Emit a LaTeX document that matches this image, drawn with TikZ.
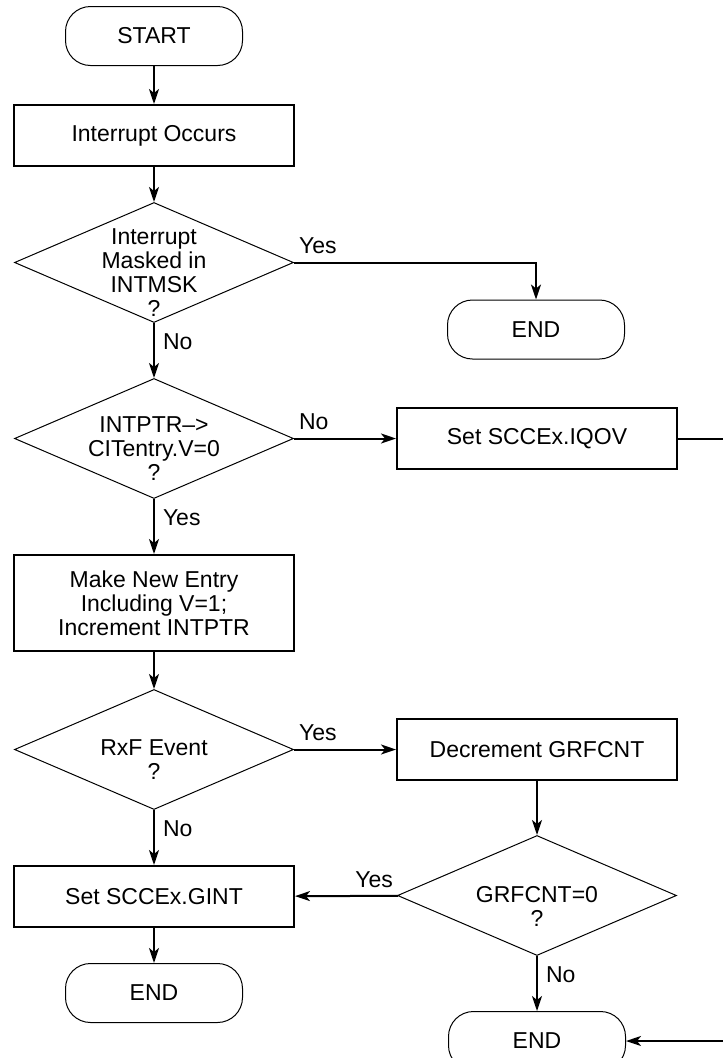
\documentclass[tikz,border=0pt]{standalone}
\usepackage{fontspec}
\setmainfont{Liberation Sans}
\usepackage{xcolor}
\usetikzlibrary{positioning, arrows.meta, shapes.geometric}
\definecolor{ink}{HTML}{000000}

\begin{document}
\begin{tikzpicture}[
    font=\fontsize{23}{24}\selectfont,
    terminal/.style={rectangle, draw=ink, text=ink, line width=1pt,
                     rounded corners=25pt, minimum width=177pt, minimum height=59pt},
    process/.style={rectangle, draw=ink, text=ink, line width=2pt,
                    minimum width=280pt, minimum height=61pt, align=center},
    decision/.style={diamond, draw=ink, line width=1pt, aspect=2.325,
                     minimum width=279pt, minimum height=120pt, inner sep=0pt},
    qtext/.style={align=center, yshift=-10.5pt, text=ink},
    arrow/.style={-{Stealth[length=15pt, width=10pt, inset=4pt]}, line width=2pt, ink},
    sidelbl/.style={inner xsep=4pt, inner ysep=7.5pt, text=ink},
    belowlbl/.style={below right, inner xsep=8pt, inner ysep=10pt, text=ink}
  ]
    \path[use as bounding box, clip] (0,0) rectangle (723pt,-1058pt);

    % main column
    \node[terminal] (start) at (154pt,-36pt) {START};
    \node[process, below=38pt of start] (occurs) {Interrupt Occurs};
    \node[decision, below=35pt of occurs,
          label={[qtext]center:{Interrupt\\Masked in\\INTMSK\\?}}] (masked) {};
    \node[decision, below=55pt of masked,
          label={[qtext]center:{INTPTR–>\\CITentry.V=0\\?}}] (valid) {};
    \node[process, below=55pt of valid, minimum height=96pt] (newentry)
         {Make New Entry\\Including V=1;\\Increment INTPTR};
    \node[decision, below=37pt of newentry,
          label={[qtext]center:{RxF Event\\?}}] (rxf) {};
    \node[process, below=55pt of rxf] (gint) {Set SCCEx.GINT};
    \node[terminal, below=35pt of gint] (end2) {END};

    % right column
    \node[terminal, right=153pt of masked, yshift=-67pt] (end1) {END};
    \node[process, right=102pt of valid] (iqov) {Set SCCEx.IQOV};
    \node[process, right=102pt of rxf] (decr) {Decrement GRFCNT};
    \node[decision, below=54pt of decr,
          label={[qtext]center:{GRFCNT=0\\?}}] (grf) {};
    \node[terminal, below=55pt of grf] (end3) {END};
    \coordinate[right=56pt of iqov.east] (rim);

    \draw[arrow] (start) -- (occurs);
    \draw[arrow] (occurs) -- (masked);
    \draw[arrow] (masked.east) -| node[pos=0, above right, sidelbl] {Yes} (end1.north);
    \draw[arrow] (masked) -- node[pos=0, belowlbl] {No} (valid);
    \draw[arrow] (valid) -- node[pos=0, above right, sidelbl] {No} (iqov);
    \draw[arrow] (valid) -- node[pos=0, belowlbl] {Yes} (newentry);
    \draw[arrow] (newentry) -- (rxf);
    \draw[arrow] (rxf) -- node[pos=0, above right, sidelbl] {Yes} (decr);
    \draw[arrow] (rxf) -- node[pos=0, belowlbl] {No} (gint);
    \draw[arrow] (decr) -- (grf);
    \draw[arrow] (grf) -- node[pos=0, above left, sidelbl] {Yes} (gint);
    \draw[arrow] (grf) -- node[pos=0, belowlbl] {No} (end3);
    \draw[arrow] (gint) -- (end2);
    \draw[arrow] (iqov) -- (rim) |- (end3);
  \end{tikzpicture}
\end{document}
